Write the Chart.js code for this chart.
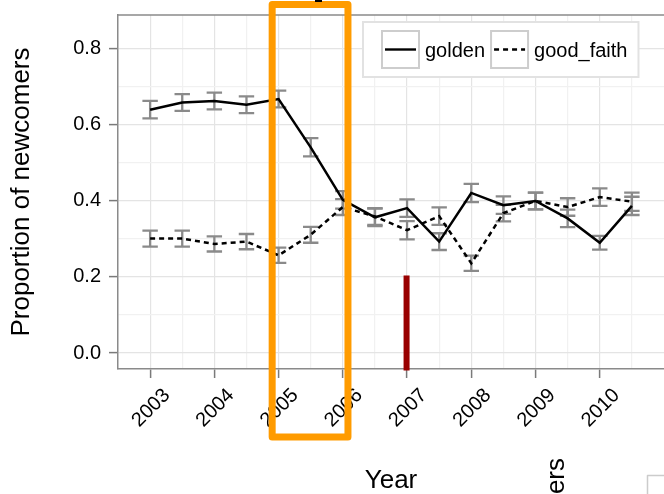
<!DOCTYPE html>
<html>
<head>
<meta charset="utf-8">
<script src="https://cdn.jsdelivr.net/npm/chart.js@4.4.1/dist/chart.umd.min.js"></script>
<style>
  html, body { margin: 0; padding: 0; background: #fff; }
</style>
</head>
<body>
<canvas id="newcomers" width="664" height="494"></canvas>
<script>
// values
var years = [2003, 2003.5, 2004, 2004.5, 2005, 2005.5, 2006, 2006.5,
             2007, 2007.5, 2008, 2008.5, 2009, 2009.5, 2010, 2010.5];
var golden    = [0.640, 0.659, 0.663, 0.653, 0.668, 0.541, 0.403, 0.357,
                 0.381, 0.293, 0.421, 0.389, 0.400, 0.354, 0.290, 0.387];
var goldenErr = [0.023, 0.022, 0.022, 0.022, 0.022, 0.024, 0.023, 0.023,
                 0.023, 0.022, 0.024, 0.023, 0.022, 0.023, 0.018, 0.024];
var goodFaith    = [0.301, 0.301, 0.287, 0.293, 0.257, 0.311, 0.384, 0.359,
                    0.323, 0.360, 0.236, 0.368, 0.400, 0.384, 0.410, 0.398];
var goodFaithErr = [0.021, 0.021, 0.020, 0.020, 0.020, 0.021, 0.021, 0.022,
                    0.024, 0.023, 0.020, 0.022, 0.022, 0.023, 0.023, 0.024];
var seriesNames = ["golden", "good_faith"];
var xTickLabels = ["2003", "2004", "2005", "2006", "2007", "2008", "2009", "2010"];
var yTickLabels = ["0.0", "0.2", "0.4", "0.6", "0.8"];
var highlightYears = [2004.9, 2006.08];
var markerYear = [2007];
var markerTop = [0.2];

var FONT = "'Liberation Sans', Arial, Helvetica, sans-serif";

function isMajorX(v) { return Math.abs(v - Math.round(v)) < 1e-6; }
function isMajorY(v) { return Math.round(v * 10) % 2 === 0; }

var errorBars = {
  id: "errorBars",
  beforeDatasetsDraw: function (chart) {
    var ctx = chart.ctx, xs = chart.scales.x, ys = chart.scales.y;
    ctx.save();
    ctx.strokeStyle = "#8a8a8a";
    ctx.lineWidth = 2.3;
    chart.data.datasets.forEach(function (ds) {
      ds.data.forEach(function (p, i) {
        var e = ds.errors[i];
        var x = xs.getPixelForValue(p.x);
        var x0 = xs.getPixelForValue(p.x - 0.12), x1 = xs.getPixelForValue(p.x + 0.12);
        var yt = ys.getPixelForValue(p.y + e), yb = ys.getPixelForValue(p.y - e);
        ctx.beginPath();
        ctx.moveTo(x, yt); ctx.lineTo(x, yb);
        ctx.moveTo(x0, yt); ctx.lineTo(x1, yt);
        ctx.moveTo(x0, yb); ctx.lineTo(x1, yb);
        ctx.stroke();
      });
    });
    // top border of the panel
    var a = chart.chartArea;
    ctx.strokeStyle = "#8a8a8a";
    ctx.lineWidth = 1.5;
    ctx.beginPath();
    ctx.moveTo(a.left, a.top); ctx.lineTo(a.right, a.top);
    ctx.stroke();
    ctx.restore();
  }
};

var overlay = {
  id: "overlay",
  afterDraw: function (chart) {
    var ctx = chart.ctx, a = chart.chartArea, xs = chart.scales.x, ys = chart.scales.y;
    ctx.save();

    // x tick labels, rotated 45 degrees around their centre
    ctx.fillStyle = "#000";
    ctx.font = "20px " + FONT;
    ctx.textAlign = "center";
    ctx.textBaseline = "middle";
    xTickLabels.forEach(function (lab) {
      var x = xs.getPixelForValue(Number(lab));
      ctx.save();
      ctx.translate(x + 1, a.bottom + 39);
      ctx.rotate(-Math.PI / 4);
      ctx.fillText(lab, 0, 0);
      ctx.restore();
    });

    // legend
    ctx.font = "20px " + FONT;
    ctx.textAlign = "left";
    var L = a.left + 245, T = a.top + 7;
    var w1 = ctx.measureText(seriesNames[0]).width;
    var w2 = ctx.measureText(seriesNames[1]).width;
    var k1 = L + 19, t1 = L + 62, k2 = t1 + w1 + 6, t2 = k2 + 43;
    var R = t2 + w2 + 11;
    ctx.fillStyle = "#fff";
    ctx.fillRect(L, T, R - L, 55);
    ctx.strokeStyle = "#e2e2e2";
    ctx.lineWidth = 2;
    ctx.strokeRect(L, T, R - L, 55);
    [k1, k2].forEach(function (k, i) {
      ctx.strokeStyle = "#cdcdcd";
      ctx.lineWidth = 2;
      ctx.strokeRect(k, T + 9, 37, 37);
      ctx.strokeStyle = "#000";
      ctx.lineWidth = 2.4;
      ctx.setLineDash(i === 0 ? [] : [5, 4]);
      ctx.beginPath();
      ctx.moveTo(k + 3, T + 27.5); ctx.lineTo(k + 34, T + 27.5);
      ctx.stroke();
      ctx.setLineDash([]);
    });
    ctx.fillStyle = "#000";
    ctx.textBaseline = "alphabetic";
    ctx.fillText(seriesNames[0], t1, T + 34.5);
    ctx.fillText(seriesNames[1], t2, T + 34.5);

    // dark red marker
    var mx = xs.getPixelForValue(markerYear[0]);
    var my = ys.getPixelForValue(markerTop[0]);
    ctx.fillStyle = "#990000";
    ctx.fillRect(mx - 3.5, my - 1.5, 6, a.bottom + 1.5 - my + 1.5);

    // orange highlight box
    var hx0 = xs.getPixelForValue(highlightYears[0]);
    var hx1 = xs.getPixelForValue(highlightYears[1]);
    ctx.strokeStyle = "#ff9b00";
    ctx.lineWidth = 7;
    ctx.lineJoin = "round";
    ctx.strokeRect(hx0, a.top - 10.5, hx1 - hx0, a.bottom + 68 - (a.top - 10.5));

    // fragments of neighbouring panels
    ctx.fillStyle = "#000";
    ctx.fillRect(315, 0, 7, 2);
    ctx.save();
    ctx.font = "26px " + FONT;
    ctx.textAlign = "right";
    ctx.textBaseline = "alphabetic";
    ctx.translate(564, 458);
    ctx.rotate(-Math.PI / 2);
    ctx.fillText("Proportion of newcomers", 0, 0);
    ctx.restore();
    ctx.strokeStyle = "#cccccc";
    ctx.lineWidth = 1.5;
    ctx.strokeRect(647.5, 475.5, 40, 40);

    ctx.restore();
  }
};

var xTickValues = [];
xTickLabels.forEach(function (lab) { xTickValues.push(Number(lab), Number(lab) + 0.5); });
var yTickValues = [];
yTickLabels.forEach(function (lab, i) {
  yTickValues.push(parseFloat(lab));
  if (i < yTickLabels.length - 1) yTickValues.push(parseFloat(lab) + 0.1);
});

function points(vals) {
  return years.map(function (y, i) { return { x: y, y: vals[i] }; });
}

new Chart(document.getElementById("newcomers"), {
  type: "line",
  data: {
    datasets: [
      { label: seriesNames[0], data: points(golden), errors: goldenErr,
        borderColor: "#000", borderWidth: 2.5, pointRadius: 0, tension: 0, fill: false },
      { label: seriesNames[1], data: points(goodFaith), errors: goodFaithErr,
        borderColor: "#000", borderWidth: 2.5, borderDash: [5, 4], pointRadius: 0, tension: 0, fill: false }
    ]
  },
  options: {
    responsive: false,
    animation: false,
    devicePixelRatio: 1,
    layout: { padding: { top: 15, left: 0, right: 0, bottom: 0 } },
    plugins: { legend: { display: false }, tooltip: { enabled: false } },
    scales: {
      x: {
        type: "linear",
        min: 2002.5,
        max: 2011,
        afterBuildTicks: function (s) { s.ticks = xTickValues.map(function (v) { return { value: v }; }); },
        afterFit: function (s) { s.height = 125; s.paddingLeft = 0; s.paddingRight = 0; s.paddingTop = 0; s.paddingBottom = 0; },
        ticks: { display: false },
        grid: {
          color: function (c) { return c.tick && isMajorX(c.tick.value) ? "#e4e4e4" : "#f1f1f1"; },
          lineWidth: 1.2,
          tickLength: 9,
          tickWidth: 1.5,
          tickColor: function (c) { return c.tick && isMajorX(c.tick.value) ? "#7a7a7a" : "rgba(0,0,0,0)"; }
        },
        border: { display: true, color: "#8a8a8a", width: 1.5 },
        title: { display: true, text: "Year", color: "#000",
                 font: { family: FONT, size: 26, lineHeight: 1 }, padding: { top: 0, bottom: 0 } }
      },
      y: {
        min: -0.042,
        max: 0.889,
        afterBuildTicks: function (s) { s.ticks = yTickValues.map(function (v) { return { value: v }; }); },
        afterFit: function (s) { s.width = 118; s.paddingLeft = 0; s.paddingRight = 0; s.paddingTop = 0; s.paddingBottom = 0; },
        ticks: {
          color: "#000",
          font: { family: FONT, size: 20 },
          padding: 8,
          callback: function (v) { var s = v.toFixed(1); return yTickLabels.indexOf(s) >= 0 ? s : ""; }
        },
        grid: {
          color: function (c) { return c.tick && isMajorY(c.tick.value) ? "#e4e4e4" : "#f1f1f1"; },
          lineWidth: 1.2,
          tickLength: 9,
          tickWidth: 1.5,
          tickColor: function (c) { return c.tick && isMajorY(c.tick.value) ? "#7a7a7a" : "rgba(0,0,0,0)"; }
        },
        border: { display: true, color: "#8a8a8a", width: 1.5 },
        title: { display: true, text: "Proportion of newcomers", color: "#000",
                 font: { family: FONT, size: 26, lineHeight: 1 }, padding: { top: 9, bottom: 0 } }
      }
    }
  },
  plugins: [errorBars, overlay]
});
</script>
</body>
</html>
